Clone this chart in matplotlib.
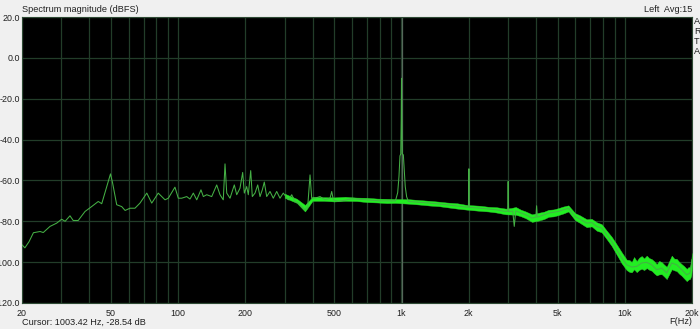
import matplotlib
matplotlib.use("Agg")
import matplotlib.pyplot as plt

plt.rcParams['font.family'] = ['Liberation Sans', 'DejaVu Sans']

# ---- data -------------------------------------------------------------
spectrum_freq = [20, 20.6, 21.5, 22.5, 24.1, 24.9, 26.7, 28.6, 30.1, 31.2, 32.8, 33.9, 35.7,
                 38.3, 41.0, 43.9, 45.5, 48.2, 49.8, 50.9, 53.1, 55.9, 57.9, 60.9, 64.1,
                 67.5, 72.4, 76.2, 81.5, 87.4, 90.4, 96.8, 100.2, 103.8, 109.3, 113.0, 117.0,
                 121.2, 126.6, 129.7, 134.3, 141.4, 148.9, 154.0, 159.3, 162.2, 165.1, 170.8,
                 178.5, 183.0, 189.3, 194.6, 197.9, 202.8, 206.2, 211.4, 214.9, 221.0, 227.2,
                 232.7, 238.3, 243.2, 249.3, 257.9, 266.8, 276.4, 285.9, 295.8, 311.6, 322.7,
                 333.8, 345.4, 357.6, 370.0, 380.5, 389.7, 396.5, 410.3, 432.0, 454.8, 478.9,
                 487.3, 495.5, 521.8, 600, 700, 800, 900, 940, 962, 975, 985, 993, 998, 1001,
                 1004, 1008, 1020, 1030, 1040, 1055, 1075, 1340, 1590, 1960, 1995, 2005, 2015,
                 2250, 2660, 2930, 2990, 3005, 3020, 3150, 3200, 3250, 3600, 3840, 4000, 4030,
                 4060, 4130, 4560, 5030, 5590, 5990, 6300, 6750, 7110, 7490, 7880, 8300, 8740,
                 9200, 9690, 10200, 10740, 11310, 11910, 12540, 13200, 13900, 14640, 15410,
                 16230, 17090, 17990, 18940, 19600, 20000]
spectrum_db = [-91.5, -93, -90, -85.6, -85, -85.5, -82.5, -80.9, -79, -80, -77.3, -79.6, -79.6,
               -75.2, -72.8, -70.3, -71.4, -62.2, -56.8, -61.3, -71.9, -72.8, -74.7, -73.6, -73.6,
               -71.1, -66.2, -71.1, -66.2, -69.5, -68.7, -63.3, -68.7, -68.7, -67.9, -69.1, -66.2,
               -69.5, -64.6, -67.9, -67, -67.9, -62.2, -67, -69.5, -51.9, -66.2, -68.7,
               -62.2, -67, -63.8, -56.1, -66.2, -63, -67, -55.2, -67.9, -66.2, -62.2,
               -67.9, -64.6, -60.8, -67.9, -65.4, -68.7, -65.4, -68.7, -66.2, -69.5, -67,
               -70.3, -71.1, -72.8, -74.4, -72.8, -57.3, -68.7, -68.7, -67.9, -69.5, -68.7,
               -65.4, -69.5, -70.3, -69, -69.5, -70, -70, -70, -66, -58, -48, -47, -30, -10,
               -30, -47, -47.5, -55, -63, -68, -70.3, -71.1, -71.9, -73.1, -73, -54.3, -73.2,
               -73.6, -74.4, -75.2, -75, -60.5, -75.3, -75, -82.5, -74.9, -76.8, -78.4, -78, -72.4,
               -78, -77.7, -76, -75.2, -73.6, -77.7, -78.9, -80.9, -80.6, -82.5, -83.3, -86.6, -89.9,
               -93.9, -98, -101.3, -102.4, -102.1, -100.4, -100.1, -101.3, -103.7, -102.9, -105.3,
               -100.4, -101.3, -103.7, -106.2, -105.3, -98.8]

band_freq = [300, 340, 370, 400, 450, 500, 560, 630, 700, 780, 860, 940, 1080, 1200, 1340, 1470,
             1590, 1780, 1960, 2250, 2450, 2660, 2930, 3100, 3250, 3420, 3600, 3840, 4130, 4350,
             4560, 4800, 5030, 5300, 5590, 5990, 6300, 6750, 7110, 7490, 7880, 8300, 8740, 9200,
             9690, 10200, 10500, 10740, 11000, 11310, 11600, 11910, 12200, 12540, 12850, 13200,
             13550, 13900, 14250, 14640, 15000, 15410, 15800, 16230, 16650, 17090, 17500, 17990,
             18450, 18940, 19300, 19600, 19850, 20000]
band_hi = [-66.5, -69, -72, -68, -68.2, -68.3, -68, -68.4, -68.5, -68.9, -69, -69.1, -69.2, -69.6,
           -70, -70.4, -70.8, -71.2, -72, -72.4, -72.9, -73.1, -73.8, -73.5, -73, -74.3, -75.2,
           -76.6, -75.8, -75.3, -74.4, -74.2, -73.6, -72.8, -72.2, -76, -77.1, -79, -78.8, -80.5,
           -81.4, -84.6, -87.6, -91.3, -95.2, -98.8, -99, -100, -97.5, -99.5, -97.8, -97, -98.2,
           -96.8, -98, -98.5, -99.6, -101, -99.4, -100, -101.2, -102.3, -99.6, -96.8, -98.3,
           -98.4, -99.8, -101, -102, -103.3, -102.4, -102.6, -99, -95.5]
band_lo = [-68.5, -71, -75.2, -70, -70, -70.3, -70, -70.1, -70.6, -70.8, -71.1, -71, -71.4, -71.8,
           -72.3, -72.6, -73.1, -73.8, -74.3, -74.9, -75.2, -75.7, -76.6, -76.7, -76.8, -77.5,
           -78.5, -80.3, -79.6, -78.9, -77.8, -77.6, -77, -76.2, -75.2, -79.4, -80.8, -82.9,
           -82.5, -84.6, -85.4, -88.7, -92.1, -96.3, -100.6, -103.9, -104.8, -105, -103.5,
           -104.9, -103.8, -103.2, -103.9, -102.9, -103.7, -104.2, -105.5, -106.5, -106, -105.9,
           -107, -108.3, -106, -103.5, -104, -104.4, -105.6, -106.7, -108, -109.3, -108.5,
           -108.2, -106.5, -102]

x_tick_values = [20, 50, 100, 200, 500, 1000, 2000, 5000, 10000, 20000]
x_tick_labels = ["20", "50", "100", "200", "500", "1k", "2k", "5k", "10k", "20k"]
y_tick_values = [20, 0, -20, -40, -60, -80, -100, -120]
y_tick_labels = ["20.0", "0.0", "-20.0", "-40.0", "-60.0", "-80.0", "-100.0", "-120.0"]
minor_x = [m * d for d in (10, 100, 1000) for m in range(2, 10)] + [10000 * m for m in (2, 3)]
cursor_freq = 1003.42
cursor_text = "Cursor: 1003.42 Hz, -28.54 dB"

# ---- figure -----------------------------------------------------------
W, H = 700, 329
fig = plt.figure(figsize=(W / 100, H / 100), dpi=100, facecolor='#f0f0f0')
ax = fig.add_axes([22 / W, 26 / H, 670 / W, 286 / H])
ax.set_facecolor('black')
ax.set_xscale('log')
ax.set_xlim(20, 20000)
ax.set_ylim(-120, 20)

grid_c = '#223d29'
ax.set_xticks(x_tick_values)
ax.set_xticklabels(x_tick_labels)
ax.set_xticks([v for v in minor_x if 20 < v < 20000 and v not in x_tick_values], minor=True)
ax.set_xticklabels([], minor=True)
ax.set_yticks(y_tick_values)
ax.set_yticklabels(y_tick_labels)
ax.grid(True, which='both', color=grid_c, linewidth=0.9)
ax.tick_params(which='both', length=0, labelsize=6.4, colors='#202020')
ax.tick_params(axis='x', pad=4)
ax.tick_params(axis='y', pad=1.2)
for s in ax.spines.values():
    s.set_color('#2e4a34')
    s.set_linewidth(0.8)

ax.axvline(cursor_freq, color='#55695a', linewidth=0.9, zorder=2)

ax.fill_between(band_freq, band_lo, band_hi, color='#22ee22', linewidth=0.3,
                edgecolor='#30d030', zorder=3)
ax.plot(spectrum_freq, spectrum_db, color='#45b045', linewidth=0.75, zorder=4)

tc = '#202020'
fs = 6.6
fig.text(22 / W, 1 - 9 / H, "Spectrum magnitude (dBFS)", ha='left', va='center', fontsize=fs, color=tc)
fig.text(692 / W, 1 - 9 / H, "Left  Avg:15", ha='right', va='center', fontsize=fs, color=tc)
for i, ch in enumerate("ARTA"):
    fig.text(694 / W, 1 - (22 + i * 10) / H, ch, ha='left', va='center', fontsize=fs, color=tc)
fig.text(22 / W, 1 - 322 / H, cursor_text, ha='left', va='center', fontsize=fs, color=tc)
fig.text(692 / W, 1 - 322 / H, "F(Hz)", ha='right', va='center', fontsize=fs, color=tc)

fig.savefig("out.png", dpi=100, facecolor=fig.get_facecolor())
